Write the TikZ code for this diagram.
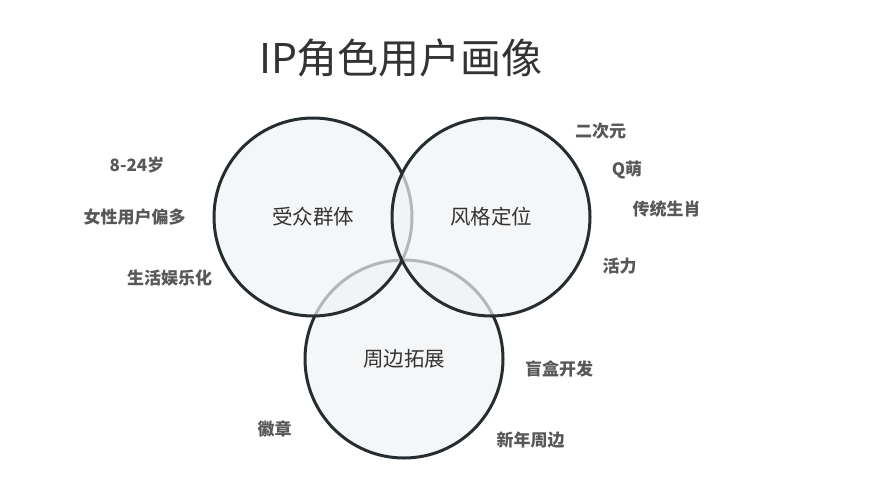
\documentclass[tikz,border=0pt]{standalone}
\usepackage{fontspec}
\newfontfamily\cjk{Noto Sans CJK SC}
\definecolor{ringline}{HTML}{262D31}
\definecolor{ringfill}{HTML}{F1F2F3}
\definecolor{titletext}{HTML}{333333}
\definecolor{tagtext}{HTML}{585858}

\begin{document}
\begin{tikzpicture}[x=1pt, y=-1pt,
    ring/.style={draw=ringline, line width=3pt, circle, fill=ringfill, fill opacity=0.7,
                 text opacity=1, minimum size=198pt, inner sep=0pt,
                 font=\cjk\fontsize{20.5}{22}\selectfont, text=titletext},
    tag/.style={font=\cjk\bfseries\fontsize{17}{19}\selectfont, text=tagtext, inner sep=0pt}]
    \useasboundingbox (0,0) rectangle (870,499);

    % Title
    \node[font=\cjk\fontsize{41}{46}\selectfont, text=titletext] (title) at (401,58) {IP角色用户画像};

    % Circles (bottom one first, so the others cover its top arc)
    \node[ring] (goods) at (404,359) {周边拓展};
    \node[ring] (users) at (313,217) {受众群体};
    \node[ring] (style) at (491,217) {风格定位};

    % Tags around users
    \node[tag] (age) at (137,165) {8-24岁};
    \node[tag] (female) at (134.5,217) {女性用户偏多};
    \node[tag] (life) at (169.5,278) {生活娱乐化};

    % Tags around style
    \node[tag] (acg) at (600.5,131) {二次元};
    \node[tag] (cute) at (627,170) {Q萌};
    \node[tag] (zodiac) at (666.5,209) {传统生肖};
    \node[tag] (vital) at (619.5,266) {活力};

    % Tags around goods
    \node[tag] (blindbox) at (559,369) {盲盒开发};
    \node[tag] (badge) at (274.5,429) {徽章};
    \node[tag] (newyear) at (530.5,440) {新年周边};
\end{tikzpicture}
\end{document}
